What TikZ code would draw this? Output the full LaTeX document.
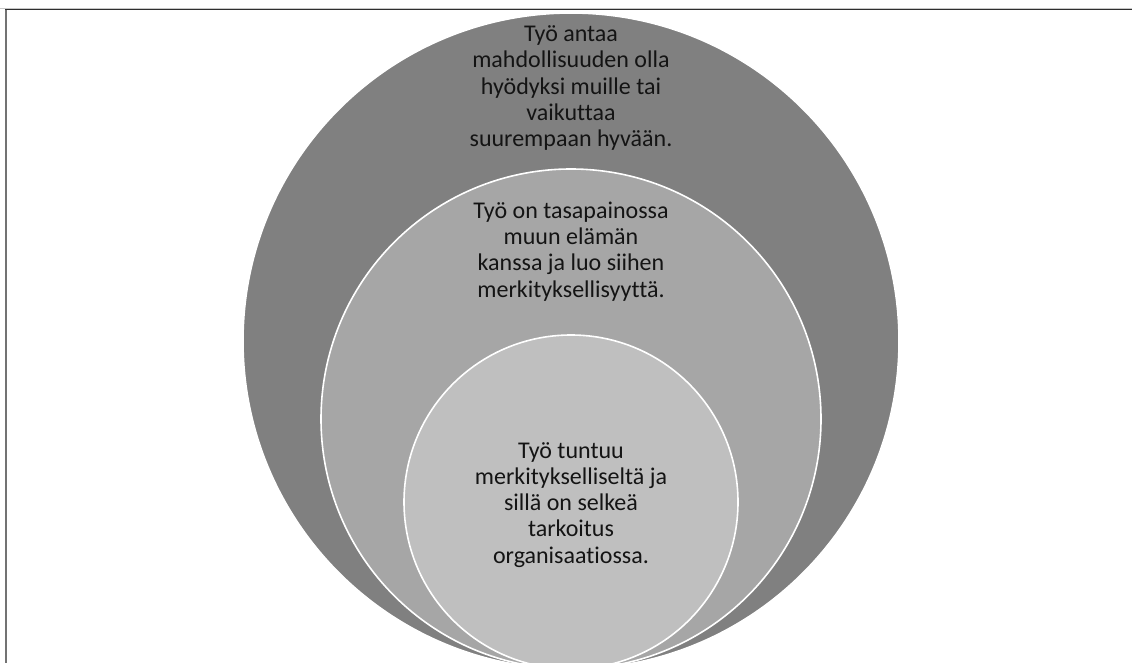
\documentclass[tikz,border=0pt]{standalone}
\usepackage{fontspec}
\setmainfont{Carlito}[Ligatures={NoCommon,NoContextual}]
\begin{document}
\begin{tikzpicture}[
        x=0.75pt, y=-0.75pt,
        ring/.style={circle, draw=white, line width=1.2pt, fill=#1,
                     inner sep=0pt},
        ringtext/.style={align=center, text=black!92,
                         font=\fontsize{18}{19.7}\selectfont},
    ]
        \useasboundingbox (0,0) rectangle (1132,663);
        \clip (0,0) rectangle (1132,663);
        \draw[black!22, line width=0.8pt] (0,8.3) -- (1132,8.3);
        \draw[black!55, line width=1.2pt] (5.8,663) -- (5.8,9.5);
        \draw[black!82, line width=0.9pt] (5.2,9.6) -- (1132,9.6);

        \node[ring=black!50, minimum size=492pt] (outer) at (571,341) {};
        \node[ring=black!35, minimum size=375pt] (middle) at (571,419) {};
        \node[ring=black!25, minimum size=250.5pt] (inner) at (571,502) {};

        \node[ringtext] (outertext) at ([yshift=-57pt]outer.north)
            {Työ antaa\\mahdollisuuden olla\\hyödyksi muille tai\\vaikuttaa\\suurempaan hyvään.};
        \node[ringtext] (middletext) at ([yshift=-62.5pt]middle.north)
            {Työ on tasapainossa\\muun elämän\\kanssa ja luo siihen\\merkityksellisyyttä.};
        \node[ringtext] (innertext) at ([yshift=-2pt]inner.center)
            {Työ tuntuu\\merkitykselliseltä ja\\sillä on selkeä\\tarkoitus\\organisaatiossa.};
    \end{tikzpicture}
\end{document}
